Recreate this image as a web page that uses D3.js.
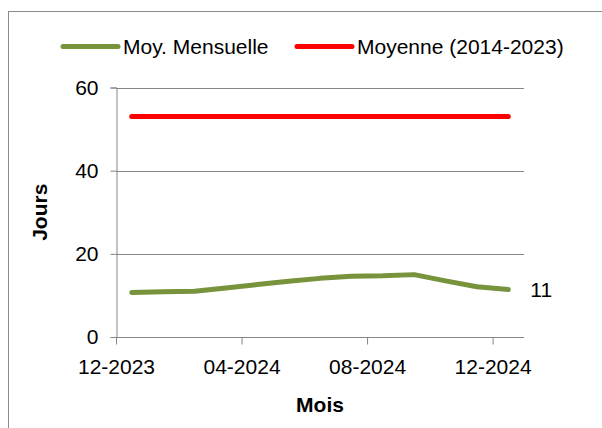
<!DOCTYPE html>
<html><head><meta charset="utf-8">
<script src="https://cdn.jsdelivr.net/npm/d3@7"></script>
<style>
html,body{margin:0;padding:0;background:#fff;}
svg{display:block;font-family:"Liberation Sans",Arial,sans-serif;}
</style></head>
<body><svg id="c" width="602" height="428"></svg>
<script>
const months = ["12-2023","01-2024","02-2024","03-2024","04-2024","05-2024","06-2024","07-2024","08-2024","09-2024","10-2024","11-2024","12-2024"];
const moyMensuelle = [10.7, 10.9, 11.0, 11.8, 12.6, 13.4, 14.1, 14.6, 14.7, 15.0, 13.5, 12.1, 11.4];
const moyenne = [53, 53, 53, 53, 53, 53, 53, 53, 53, 53, 53, 53, 53];
const yTicks = [0, 20, 40, 60];
const xTickIdx = [0, 4, 8, 12];
const seriesNames = ["Moy. Mensuelle", "Moyenne (2014-2023)"];
const seriesColors = ["#77933C", "#FF0000"];

const svg = d3.select("#c");
const L = 116, R = 524, T = 87.5, B = 337;
const x = d3.scaleLinear().domain([0, months.length]).range([L, R]);
const y = d3.scaleLinear().domain([0, 60]).range([B, T]);
const fs = 21;

// outer border
svg.append("rect").attr("x", 8.5).attr("y", 11.5).attr("width", 620).attr("height", 440)
  .attr("fill", "none").attr("stroke", "#8c8c8c").attr("stroke-width", 1);

// gridlines
svg.append("g").selectAll("line").data(yTicks.filter(d => d > 0)).join("line")
  .attr("x1", L).attr("x2", R).attr("y1", d => Math.round(y(d)) + 0.5).attr("y2", d => Math.round(y(d)) + 0.5)
  .attr("stroke", "#868686").attr("stroke-width", 1);

// y axis
const yAxis = d3.axisLeft(y).tickValues(yTicks).tickSize(6).tickPadding(12).tickFormat(d3.format("d"));
const gy = svg.append("g").attr("transform", `translate(${L + 0.5},0)`).call(yAxis);
gy.select(".domain").attr("stroke", "#868686");
gy.selectAll(".tick line").attr("stroke", "#868686");
gy.selectAll(".tick text").attr("font-size", fs).attr("fill", "#000").attr("font-family", "Liberation Sans, Arial, sans-serif");

// x axis
const xAxis = d3.axisBottom(x).tickValues(xTickIdx).tickSize(7).tickPadding(15).tickFormat(i => months[i]);
const gx = svg.append("g").attr("transform", `translate(0,${B + 0.5})`).call(xAxis);
gx.select(".domain").attr("stroke", "#868686").attr("d", `M${L},0H${R}`);
gx.selectAll(".tick line").attr("stroke", "#868686");
gx.selectAll(".tick text").attr("font-size", fs).attr("fill", "#000").attr("font-family", "Liberation Sans, Arial, sans-serif");

// lines
const line = d3.line().x((d, i) => x(i + 0.5)).y(d => y(d));
[moyenne, moyMensuelle].forEach((data, k) => {
  const ci = k === 0 ? 1 : 0;
  svg.append("path").datum(data).attr("d", line).attr("fill", "none")
    .attr("stroke", seriesColors[ci]).attr("stroke-width", 5)
    .attr("stroke-linecap", "round").attr("stroke-linejoin", "round");
});

// data label
const last = moyMensuelle.length - 1;
svg.append("text").attr("x", x(last + 0.5) + 22).attr("y", y(moyMensuelle[last]) + 7.5)
  .attr("font-size", fs).text(d3.format(".0f")(Math.floor(moyMensuelle[last])));

// axis titles
svg.append("text").attr("x", (L + R) / 2).attr("y", 412).attr("text-anchor", "middle")
  .attr("font-size", fs).attr("font-weight", "bold").text("Mois");
svg.append("text").attr("transform", `translate(47,${(T + B) / 2}) rotate(-90)`).attr("text-anchor", "middle")
  .attr("font-size", fs).attr("font-weight", "bold").text("Jours");

// legend
const legX = [63, 297];
seriesNames.forEach((n, i) => {
  svg.append("line").attr("x1", legX[i]).attr("x2", legX[i] + 55).attr("y1", 46.5).attr("y2", 46.5)
    .attr("stroke", seriesColors[i]).attr("stroke-width", 5).attr("stroke-linecap", "round");
  svg.append("text").attr("x", legX[i] + 60).attr("y", 54).attr("font-size", fs).text(n);
});
</script></body></html>
